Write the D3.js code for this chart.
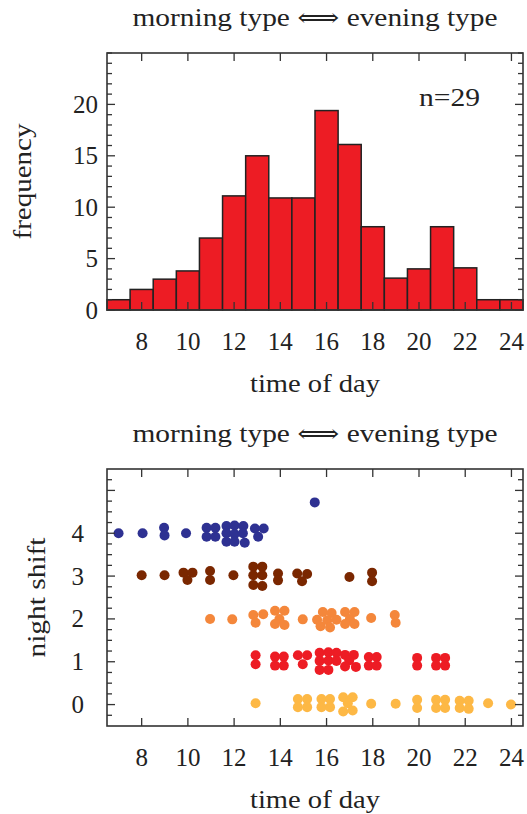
<!DOCTYPE html>
<html><head><meta charset="utf-8">
<script src="https://cdn.jsdelivr.net/npm/d3@7"></script>
<style>
html,body{margin:0;padding:0;background:#fff;}
text{font-family:"Liberation Serif","DejaVu Serif",serif;fill:#222;}
</style></head>
<body>
<svg id="c" width="527" height="814"></svg>
<script>
// ---- data ----
const titleText = "morning type \u27FA evening type";
const xLabel = "time of day";
const hours = [7,8,9,10,11,12,13,14,15,16,17,18,19,20,21,22,23,24];
const freq  = [1,2,3,3.8,7,11.1,15,10.9,10.9,19.4,16.1,8.1,3.1,4,8.1,4.1,1,1];
const xTicks = [8,10,12,14,16,18,20,22,24];
const freqTicks = [0,5,10,15,20];
const shiftTicks = [0,1,2,3,4];
const nLabel = "n=29";

const shift4 = [[7.0,4.0],[8.04,4.0],[8.97,4.13],[8.99,3.95],[9.92,4.0],
 [10.81,4.13],[11.19,4.13],[10.81,3.92],[11.19,3.92],
 [11.67,4.17],[12.02,4.18],[12.4,4.17],[11.67,4.0],[12.02,3.98],[12.38,4.0],[11.67,3.8],[12.02,3.8],[12.46,3.78],
 [12.9,4.11],[13.28,4.11],[13.04,3.92],[15.49,4.72]];
const shift3 = [[8.0,3.02],[8.99,3.02],[9.81,3.08],[10.2,3.08],[9.98,2.91],[10.96,3.12],[10.96,2.91],[11.97,3.02],
 [12.83,3.22],[13.22,3.22],[12.83,3.02],[13.22,3.02],[12.83,2.79],[13.22,2.77],
 [13.9,3.06],[13.9,2.9],[14.73,3.06],[15.16,3.05],[14.94,2.88],[16.99,2.98],[17.97,3.08],[17.97,2.88]];
const shift2 = [[10.96,2.0],[11.92,1.99],[12.83,2.09],[13.26,2.11],[12.93,1.91],
 [13.77,2.19],[14.18,2.19],[13.96,2.0],[13.77,1.88],[14.18,1.86],[14.97,1.99],
 [15.84,2.16],[16.22,2.14],[15.59,1.98],[16.03,1.97],[16.43,1.98],[15.74,1.83],[16.15,1.8],
 [16.8,2.16],[17.21,2.16],[17.01,2.0],[16.8,1.88],[17.21,1.88],
 [17.93,2.02],[18.95,2.09],[18.99,1.91]];
const shift1 = [[12.93,1.15],[12.93,0.94],[13.77,1.12],[14.15,1.12],[13.77,0.91],[14.15,0.91],
 [14.76,1.15],[15.16,1.15],[14.97,0.94],
 [15.7,1.21],[16.08,1.22],[16.43,1.21],[15.7,1.02],[16.08,1.03],[16.43,1.02],[15.7,0.81],[16.08,0.81],
 [16.8,1.16],[17.18,1.16],[16.98,1.03],[16.8,0.89],[17.27,0.88],
 [17.83,1.11],[18.17,1.11],[17.83,0.91],[18.17,0.91],
 [19.92,1.09],[19.92,0.91],[20.74,1.09],[21.13,1.09],[20.74,0.91],[21.13,0.91]];
const shift0 = [[12.93,0.03],[14.76,0.13],[15.16,0.13],[14.76,-0.06],[15.16,-0.06],
 [15.78,0.13],[16.15,0.13],[15.78,-0.06],[16.15,-0.06],
 [16.72,0.17],[17.13,0.17],[16.92,0.03],[16.72,-0.16],[17.13,-0.14],
 [17.93,0.02],[18.99,0.02],[19.92,0.11],[19.92,-0.08],
 [20.74,0.11],[21.13,0.11],[20.74,-0.08],[21.13,-0.08],
 [21.76,0.09],[22.15,0.09],[21.76,-0.08],[22.15,-0.1],
 [22.99,0.03],[23.98,0.0]];
const seriesList = [shift4, shift3, shift2, shift1, shift0];
const seriesColors = ["#2e3192","#7a2700","#f4873b","#ed1c24","#fdb845"];

// ---- layout ----
const svg = d3.select("#c");
const L = 107, R = 523;
const FS = 25;
const frameColor = "#333";

const x = d3.scaleLinear().domain([6.5,24.5]).range([L,R]);

function fitText(sel, len) {
  return sel.attr("textLength", len).attr("lengthAdjust", "spacingAndGlyphs");
}

function frame(g, top, bottom, y, majorY, minorY, labelsY, labelRight, ylabel, ylabelX, ylabelLen) {
  const tk = g.append("g").attr("stroke", frameColor).attr("stroke-width",1.3);
  xTicks.forEach(t=>{
    tk.append("line").attr("x1",x(t)).attr("x2",x(t)).attr("y1",bottom).attr("y2",bottom-8);
    tk.append("line").attr("x1",x(t)).attr("x2",x(t)).attr("y1",top).attr("y2",top+8);
  });
  minorY.forEach(v=>{
    const len = majorY.some(m=>Math.abs(m-v)<1e-6) ? 8 : 5;
    tk.append("line").attr("x1",L).attr("x2",L+len).attr("y1",y(v)).attr("y2",y(v));
    tk.append("line").attr("x1",R).attr("x2",R-len).attr("y1",y(v)).attr("y2",y(v));
  });
  g.append("rect").attr("x",L).attr("y",top).attr("width",R-L).attr("height",bottom-top)
    .attr("fill","none").attr("stroke",frameColor).attr("stroke-width",1.6);
  xTicks.forEach(t=>{
    g.append("text").attr("x",x(t)).attr("y",bottom+40).attr("text-anchor","middle")
      .attr("font-size",FS).text(t);
  });
  labelsY.forEach(v=>{
    g.append("text").attr("x",labelRight).attr("y",y(v)).attr("dy","0.34em").attr("text-anchor","end")
      .attr("font-size",FS).text(v);
  });
  fitText(g.append("text").attr("x",(L+R)/2).attr("y",bottom+82).attr("text-anchor","middle")
    .attr("font-size",FS).text(xLabel), 130);
  fitText(g.append("text").attr("transform",`translate(${ylabelX},${(top+bottom)/2}) rotate(-90)`)
    .attr("text-anchor","middle").attr("font-size",FS).text(ylabel), ylabelLen);
  fitText(g.append("text").attr("x",(L+R)/2).attr("y",top-27).attr("text-anchor","middle")
    .attr("font-size",FS).text(titleText), 365);
}

// ---- top histogram ----
const T1 = 53, B1 = 310;
const y1 = d3.scaleLinear().domain([0,25]).range([B1,T1]);
const g1 = svg.append("g");
g1.selectAll("rect.bar").data(hours).enter().append("rect").attr("class","bar")
  .attr("x",d=>x(d-0.5)).attr("width",d=>x(d+0.5)-x(d-0.5))
  .attr("y",(d,i)=>y1(freq[i])).attr("height",(d,i)=>y1(0)-y1(freq[i]))
  .attr("fill","#ed1c24").attr("stroke","#222").attr("stroke-width",1.5);
frame(g1, T1, B1, y1, freqTicks, d3.range(0,26,1), freqTicks, 98, "frequency", 31, 116);
fitText(g1.append("text").attr("x",480).attr("y",106).attr("text-anchor","end").attr("font-size",FS).text(nLabel), 61);

// ---- bottom scatter ----
const T2 = 469, B2 = 726;
const y2 = d3.scaleLinear().domain([-0.5,5.5]).range([B2,T2]);
const g2 = svg.append("g");
seriesList.forEach((s,i)=>{
  g2.append("g").selectAll("circle").data(s).enter().append("circle")
    .attr("cx",d=>x(d[0])).attr("cy",d=>y2(d[1])).attr("r",5)
    .attr("fill",seriesColors[i]);
});
frame(g2, T2, B2, y2, shiftTicks.concat([5]), d3.range(-0.25,5.5,0.25), shiftTicks, 84, "night shift", 45, 120);
</script>
</body></html>
